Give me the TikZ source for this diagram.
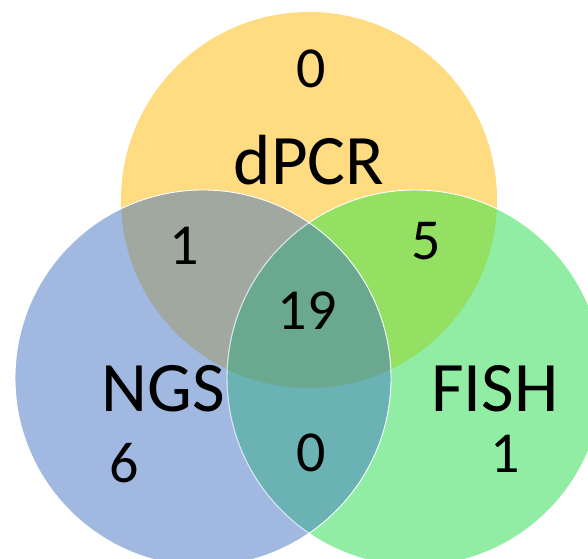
\documentclass[tikz,border=0pt]{standalone}
\usepackage{fontspec}
\setmainfont{Carlito}
\usepackage{tikz}
\usetikzlibrary{positioning}
\definecolor{dpcrcol}{RGB}{255,220,130}
\definecolor{ngscol}{RGB}{161,184,224}
\definecolor{fishcol}{RGB}{144,237,163}
\definecolor{dnCol}{RGB}{160,168,159}
\definecolor{dfCol}{RGB}{147,224,98}
\definecolor{nfCol}{RGB}{106,178,180}
\definecolor{allCol}{RGB}{106,168,144}
\definecolor{rimCol}{RGB}{190,206,236}

\begin{document}
\begin{tikzpicture}[x=1bp,y=1bp,every node/.style={inner sep=0,outer sep=0,anchor=base},
    setname/.style={font=\fontsize{71bp}{80bp}\selectfont},
    count/.style={font=\fontsize{58bp}{66bp}\selectfont}]
    \useasboundingbox (0,0) rectangle (588,559);
    \clip (0,0) rectangle (588,559);
    \coordinate (D) at (309,359);
    \coordinate (N) at (203,181);
    \coordinate (F) at (415,181);
    \def\rad{188}
    % circles
    \fill[dpcrcol] (D) circle (\rad);
    \fill[fishcol] (F) circle (\rad);
    \fill[ngscol] (N) circle (\rad);
    % overlaps
    \begin{scope}
        \clip (D) circle (\rad);
        \fill[dnCol] (N) circle (\rad);
        \fill[dfCol] (F) circle (\rad);
    \end{scope}
    \begin{scope}
        \clip (N) circle (\rad);
        \fill[nfCol] (F) circle (\rad);
        \clip (F) circle (\rad);
        \fill[allCol] (D) circle (\rad);
    \end{scope}
    % rims
    \draw[white,line width=0.9bp] (F) circle (\rad);
    \begin{scope}
        \clip (N) circle (\rad);
        \draw[rimCol,line width=0.9bp,opacity=0.6] (F) circle (\rad);
    \end{scope}
    \draw[white,line width=0.9bp] (N) circle (\rad);
    % labels
    \node[setname] (P1) at (309,374) {dPCR};
    \node[setname] (P2) at (163,147) {NGS};
    \node[setname] (P3) at (495,147) {FISH};
    \node[count] (P4) at (311,471) {0};
    \node[count] (P5) at (184,294) {1};
    \node[count] (P6) at (426,299) {5};
    \node[count] (P7) at (307,229) {19};
    \node[count] (P8) at (124,76) {6};
    \node[count] (P9) at (311,87) {0};
    \node[count] (P10) at (505,86) {1};
\end{tikzpicture}
\end{document}
